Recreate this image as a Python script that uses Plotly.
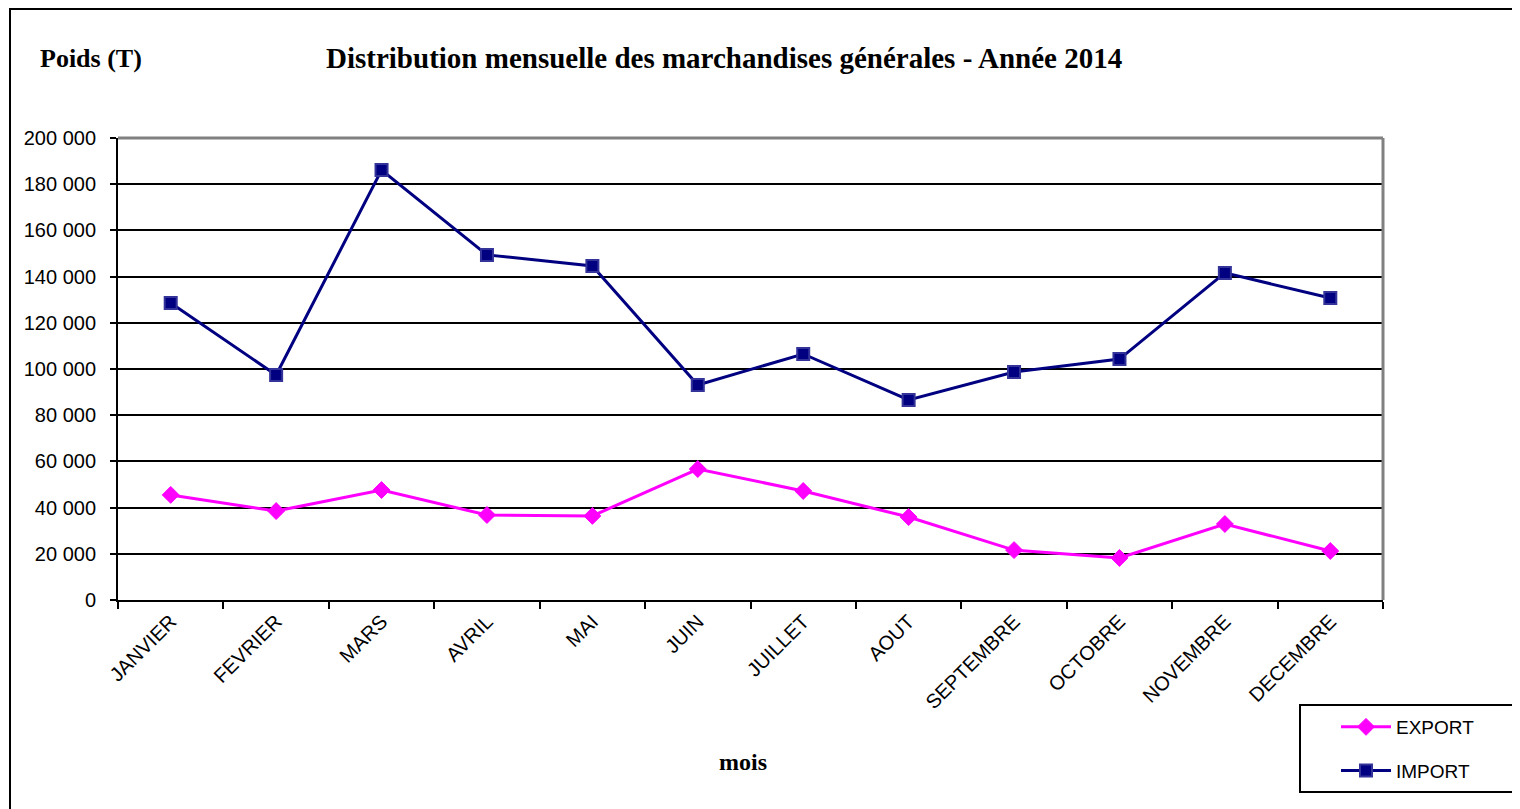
import plotly.graph_objects as go

months = ["JANVIER", "FEVRIER", "MARS", "AVRIL", "MAI", "JUIN", "JUILLET",
          "AOUT", "SEPTEMBRE", "OCTOBRE", "NOVEMBRE", "DECEMBRE"]
export_vals = [45500, 38500, 47600, 36800, 36400, 56700, 47200,
               35900, 21600, 18200, 32900, 21200]
import_vals = [128600, 97400, 186100, 149400, 144600, 93100, 106500,
               86600, 98700, 104300, 141600, 130700]
y_ticks = [0, 20000, 40000, 60000, 80000, 100000, 120000, 140000,
           160000, 180000, 200000]

OFF = 8  # page body margin
W, H = 1512, 801
L, R, T, B = 118 - OFF, 1383 - OFF, 138 - OFF, 600 - OFF
pw, ph = R - L, B - T


def px(x):
    return (x - OFF - L) / pw


def py(y):
    return (B - (y - OFF)) / ph


fig = go.Figure()
fig.add_trace(go.Scatter(
    x=months, y=export_vals, name="EXPORT", mode="lines+markers",
    line=dict(color="#FF00FF", width=3),
    marker=dict(symbol="diamond", size=13, color="#FF00FF",
                line=dict(color="#FF00FF", width=1)),
    legendgroup="e",
))
fig.add_trace(go.Scatter(
    x=months, y=import_vals, name="IMPORT", mode="lines+markers",
    line=dict(color="#000080", width=3),
    marker=dict(symbol="square", size=12, color="#000080",
                line=dict(color="#333399", width=2)),
    legendgroup="i",
))

fig.update_layout(
    width=W, height=H,
    margin=dict(l=L, r=W - R, t=T, b=H - B, autoexpand=False),
    paper_bgcolor="white", plot_bgcolor="white",
    separators=", ",
    showlegend=True,
    legend=dict(
        x=px(1336), y=py(708), xanchor="left", yanchor="top",
        borderwidth=0, bgcolor="rgba(0,0,0,0)",
        font=dict(family="Liberation Sans, Arial", size=19, color="black"),
        tracegroupgap=16, itemwidth=50,
    ),
    xaxis=dict(
        type="category", range=[-0.5, len(months) - 0.5],
        tickson="boundaries", ticks="outside",
        ticklen=7, tickwidth=2, tickcolor="black",
        showline=True, linecolor="black", linewidth=2,
        showgrid=False, tickangle=-45,
        tickfont=dict(family="Liberation Sans, Arial", size=20, color="black"),
        fixedrange=True,
    ),
    yaxis=dict(
        range=[0, 200000], tickvals=y_ticks, tickformat=",d",
        ticks="outside", ticklen=6, tickwidth=2, tickcolor="black",
        ticklabelstandoff=10,
        showline=True, linecolor="black", linewidth=2,
        showgrid=True, gridcolor="black", gridwidth=1.5,
        zeroline=False,
        tickfont=dict(family="Liberation Sans, Arial", size=20, color="black"),
        fixedrange=True,
    ),
)

# gray top and right plot borders
fig.add_shape(type="line", xref="paper", yref="paper", x0=0, x1=1, y0=1, y1=1,
              line=dict(color="#808080", width=3), layer="above")
fig.add_shape(type="line", xref="paper", yref="paper", x0=1, x1=1, y0=0, y1=1,
              line=dict(color="#808080", width=3), layer="above")
# outer chart frame
fig.add_shape(type="rect", xref="paper", yref="paper",
              x0=px(10), x1=px(1540), y0=py(830), y1=py(9),
              line=dict(color="black", width=2), layer="below")
# legend box
fig.add_shape(type="rect", xref="paper", yref="paper",
              x0=px(1300), x1=px(1517), y0=py(792), y1=py(705),
              line=dict(color="black", width=2), fillcolor="white", layer="below")

fig.add_annotation(text="<b>Poids (T)</b>", xref="paper", yref="paper",
                   x=px(38), y=py(59), xanchor="left", yanchor="middle",
                   showarrow=False,
                   font=dict(family="Liberation Serif, Times New Roman", size=26, color="black"))
fig.add_annotation(text="<b>Distribution mensuelle des marchandises générales - Année 2014</b>",
                   xref="paper", yref="paper",
                   x=px(724), y=py(58), xanchor="center", yanchor="middle",
                   showarrow=False,
                   font=dict(family="Liberation Serif, Times New Roman", size=29, color="black"))
fig.add_annotation(text="<b>mois</b>", xref="paper", yref="paper",
                   x=px(743), y=py(762), xanchor="center", yanchor="middle",
                   showarrow=False,
                   font=dict(family="Liberation Serif, Times New Roman", size=24, color="black"))

fig.write_html("out.html")
